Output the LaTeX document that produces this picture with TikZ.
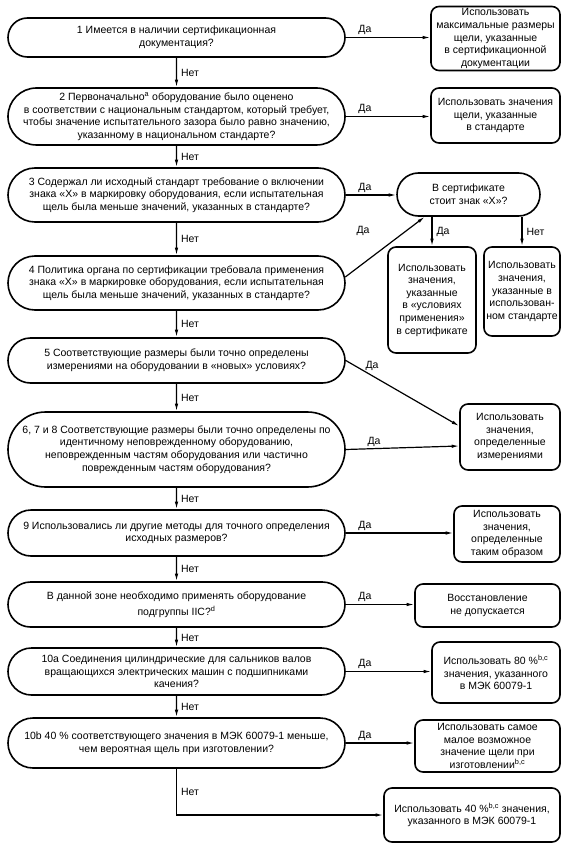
\documentclass[tikz,border=0pt]{standalone}
\usepackage{fontspec}
\setmainfont{Liberation Sans}
\usetikzlibrary{shapes.misc,arrows.meta,calc}
\begin{document}
\begin{tikzpicture}[x=1pt,y=-1pt,
  every node/.style={font=\fontsize{10.5}{12.6}\selectfont, align=center, inner sep=0pt},
  qbox/.style={rounded rectangle, draw, line width=1.6pt, minimum width=337pt},
  rbox/.style={rectangle, draw, line width=1.6pt, rounded corners=8pt},
  arr/.style={line width=1.2pt, -{Latex[length=7.5pt,width=3.5pt]}},
  net/.style={anchor=west, xshift=4pt},
  da/.style={anchor=south west, xshift=12pt, yshift=2pt}
]
\useasboundingbox (0,0) rectangle (567,850);
\fill[white] (0,0) rectangle (567,850);

% questions
\node[qbox, minimum height=39pt] (q1) at (176.5,37.5) {1 Имеется в наличии сертификационная\\документация?};
\node[qbox, minimum height=57pt] (q2) at (176.5,116.5) {2 Первоначально\textsuperscript{a} оборудование было оценено\\в соответствии с национальным стандартом, который требует,\\чтобы значение испытательного зазора было равно значению,\\указанному в национальном стандарте?};
\node[qbox, minimum height=54pt] (q3) at (176.5,195) {3 Содержал ли исходный стандарт требование о включении\\знака «X» в маркировку оборудования, если испытательная\\щель была меньше значений, указанных в стандарте?};
\node[qbox, minimum height=54pt] (q4) at (176.5,283) {4 Политика органа по сертификации требовала применения\\знака «X» в маркировке оборудования, если испытательная\\щель была меньше значений, указанных в стандарте?};
\node[qbox, minimum height=45pt] (q5) at (176.5,360.5) {5 Соответствующие размеры были точно определены\\измерениями на оборудовании в «новых» условиях?};
\node[qbox, minimum height=75pt] (q6) at (176.5,449.5) {6, 7 и 8 Соответствующие размеры были точно определены по\\идентичному неповрежденному оборудованию,\\неповрежденным частям оборудования или частично\\поврежденным частям оборудования?};
\node[qbox, minimum height=46pt] (q9) at (176.5,533) {9 Использовались ли другие методы для точного определения\\исходных размеров?};
\node[qbox, minimum height=45pt] (q11) at (176.5,604.5) {В данной зоне необходимо применять оборудование\\[3pt]подгруппы IIC?\textsuperscript{d}};
\node[qbox, minimum height=47pt] (q10a) at (176.5,671.5) {10a Соединения цилиндрические для сальников валов\\вращающихся электрических машин с подшипниками\\качения?};
\node[qbox, minimum height=50pt] (q10b) at (176.5,743) {10b 40 \% соответствующего значения в МЭК 60079-1 меньше,\\чем вероятная щель при изготовлении?};

% results
\node[rbox, minimum width=129pt, minimum height=64pt] (r1) at (495.5,38.5) {Использовать\\максимальные размеры\\щели, указанные\\в сертификационной\\документации};
\node[rbox, minimum width=129pt, minimum height=55pt] (r2) at (495.5,115.5) {Использовать значения\\щели, указанные\\в стандарте};
\node[qbox, minimum width=143pt, minimum height=43pt] (cert) at (468.5,194.5) {В сертификате\\стоит знак «X»?};
\node[rbox, minimum width=88pt, minimum height=106pt] (cy) at (432,300) {Использовать\\значения,\\указанные\\в «условиях\\применения»\\в сертификате};
\node[rbox, minimum width=76pt, minimum height=89pt] (cn) at (522,291.5) {Использовать\\значения,\\указанные в\\использован-\\ном стандарте};
\node[rbox, minimum width=100pt, minimum height=66pt] (rm) at (510,437) {Использовать\\значения,\\определенные\\измерениями};
\node[rbox, minimum width=106pt, minimum height=56pt] (r9) at (507,534) {Использовать\\значения,\\определенные\\таким образом};
\node[rbox, minimum width=145pt, minimum height=43pt] (r11) at (487.5,605.5) {Восстановление\\не допускается};
\node[rbox, minimum width=128pt, minimum height=61pt] (r10a) at (496,672.5) {Использовать 80 \%\textsuperscript{b,c}\\значения, указанного\\в МЭК 60079-1};
\node[rbox, minimum width=145pt, minimum height=52pt] (r10b) at (487.5,746) {Использовать самое\\малое возможное\\значение щели при\\изготовлении\textsuperscript{b,c}};
\node[rbox, minimum width=176pt, minimum height=54pt] (rl) at (472,815) {Использовать 40 \%\textsuperscript{b,c} значения,\\указанного в МЭК 60079-1};

% Нет arrows
\draw[arr] (q1) -- node[net] (n1) {Нет} (q2);
\draw[arr] (q2) -- node[net] (n2) {Нет} (q3);
\draw[arr] (q3) -- node[net] (n3) {Нет} (q4);
\draw[arr] (q4) -- node[net] (n4) {Нет} (q5);
\draw[arr] (q5) -- node[net] (n5) {Нет} (q6);
\draw[arr] (q6) -- node[net] (n6) {Нет} (q9);
\draw[arr] (q9) -- node[net] (n7) {Нет} (q11);
\draw[arr] (q11) -- node[net] (n8) {Нет} (q10a);
\draw[arr] (q10a) -- node[net] (n9) {Нет} (q10b);
\draw[arr] (q10b.south) |- node[net, pos=0.25] (n10) {Нет} (rl.west);

% Да arrows
\draw[arr] (q1.east) -- node[da, at start] (d1) {Да} (q1.east -| r1.west);
\draw[arr] (q2.east) -- node[da, at start] (d2) {Да} (q2.east -| r2.west);
\draw[arr] (q3.east) -- node[da, at start] (d3) {Да} (q3.east -| cert.west);
\draw[arr] ($(q4.east)+(-0.5,-6)$) -- (cert.207);
\node (d4) at (363,231) {Да};
\draw[arr] (q5.east) -- ($(rm.west)+(0,-11)$);
\node (d5) at (372,366) {Да};
\draw[arr] (q6.east) -- ($(rm.west)+(0,9)$);
\node (d6) at (374,442) {Да};
\draw[arr] (q9.east) -- node[da, at start] (d7) {Да} (q9.east -| r9.west);
\draw[arr] (q11.east) -- node[da, at start] (d8) {Да} (q11.east -| r11.west);
\draw[arr] (q10a.east) -- node[da, at start] (d9) {Да} (q10a.east -| r10a.west);
\draw[arr] (q10b.east) -- node[da, at start] (d10) {Да} (q10b.east -| r10b.west);

% certificate branches
\draw[arr] (cy.north |- cert.south) -- node[net] (cd) {Да} (cy.north);
\draw[arr] (cn.north |- cert.south) -- node[net] (cnn) {Нет} (cn.north);
\end{tikzpicture}
\end{document}
